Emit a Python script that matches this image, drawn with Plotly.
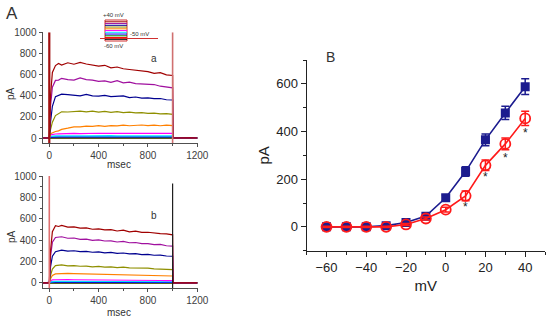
import plotly.graph_objects as go

# ---------------- Panel A data (current traces, pA) ----------------
t_pulse = [0, 10, 25, 50, 75, 100, 150, 200, 250, 300, 350, 400, 450, 500,
           550, 600, 650, 700, 750, 800, 850, 900, 950, 1000]
t_pre = [-50, -2]
t_post = [1003, 1050, 1100, 1150, 1200]

trace_colors = ["#a00000", "#a0109f", "#000090", "#8f8f00", "#ff8000",
                "#ff00ff", "#00e5ff", "#0000ff", "#008000", "#ff0000", "#000000"]

a_traces = [
    [0, 400, 620, 685, 705, 690, 712, 698, 715, 700, 693, 680, 688, 664, 672, 655, 648, 640, 634, 628, 612, 618, 598, 592],
    [0, 300, 480, 545, 548, 565, 552, 548, 568, 552, 548, 536, 540, 526, 542, 522, 528, 515, 512, 502, 506, 490, 485, 475],
    [0, 150, 300, 392, 402, 415, 410, 406, 398, 412, 398, 396, 403, 392, 392, 398, 382, 388, 378, 380, 372, 374, 362, 360],
    [0, 80, 150, 212, 232, 248, 246, 253, 255, 248, 255, 245, 252, 243, 250, 241, 245, 238, 240, 233, 236, 228, 230, 224],
    [0, 40, 50, 62, 68, 82, 93, 106, 105, 112, 110, 117, 111, 118, 115, 122, 116, 121, 123, 117, 122, 116, 121, 117],
    [0, 30, 35, 38, 40, 42, 40, 43, 41, 44, 42, 45, 43, 44, 42, 45, 44, 43, 45, 44, 43, 44, 42, 43],
    [0, 15, 18, 20, 20, 21, 20, 22, 21, 20, 22, 21, 20, 22, 21, 20, 21, 22, 20, 21, 20, 21, 22, 20],
    [0, 8, 10, 10, 11, 10, 12, 10, 11, 10, 11, 12, 10, 11, 10, 11, 12, 10, 11, 10, 11, 10, 11, 10],
    [0, 4, 5, 5, 6, 5, 4, 5, 6, 5, 4, 5, 6, 5, 4, 5, 6, 5, 4, 5, 6, 5, 4, 5],
    [0, 0, 1, 0, -1, 0, 1, 0, -1, 0, 1, 0, -1, 0, 1, 0, -1, 0, 1, 0, -1, 0, 1, 0],
    [0, -5, -6, -5, -4, -5, -6, -5, -4, -5, -6, -5, -4, -5, -6, -5, -4, -5, -6, -5, -4, -5, -6, -5],
]

b_traces = [
    [0, 300, 480, 535, 528, 538, 522, 525, 512, 514, 502, 505, 496, 498, 486, 494, 478, 484, 472, 474, 466, 462, 458, 450],
    [0, 250, 380, 425, 428, 432, 418, 420, 408, 410, 398, 403, 392, 394, 383, 388, 376, 378, 367, 368, 358, 360, 348, 345],
    [0, 150, 250, 292, 298, 307, 298, 301, 292, 295, 287, 290, 282, 285, 277, 280, 272, 274, 265, 267, 259, 260, 252, 250],
    [0, 70, 130, 162, 163, 168, 160, 162, 156, 157, 151, 154, 148, 150, 144, 147, 141, 142, 136, 138, 132, 132, 126, 125],
    [0, 40, 70, 85, 88, 90, 90, 88, 87, 86, 85, 84, 82, 80, 80, 78, 76, 75, 74, 72, 70, 68, 67, 65],
    [0, 20, 28, 30, 32, 32, 31, 30, 30, 29, 29, 28, 28, 27, 27, 26, 26, 25, 25, 24, 24, 23, 22, 22],
    [0, 10, 14, 15, 16, 16, 15, 15, 15, 14, 14, 14, 14, 13, 13, 13, 13, 12, 12, 12, 12, 12, 11, 11],
    [0, 5, 7, 8, 8, 8, 8, 8, 7, 7, 7, 7, 7, 7, 7, 6, 6, 6, 6, 6, 6, 6, 6, 6],
    [0, 2, 3, 3, 3, 3, 3, 3, 3, 3, 3, 3, 3, 3, 3, 3, 3, 3, 3, 3, 3, 3, 3, 3],
    [0, -2, -3, -2, -3, -2, -3, -2, -3, -2, -3, -2, -3, -2, -3, -2, -3, -2, -3, -2, -3, -2, -3, -2],
    [0, -6, -7, -6, -7, -6, -7, -6, -7, -6, -7, -6, -7, -6, -7, -6, -7, -6, -7, -6, -7, -6, -7, -6],
]
baseline_pre = [0, 0]
baseline_post = [0, 2, -2, 1, 0]

# capacitive transients (time, top value) per panel
a_transients = [(0, 1000, "#a01010", 2.2), (1000, 1000, "#d07070", 1.6)]
b_transients = [(0, 1000, "#e07070", 1.6), (1000, 930, "#202020", 1.2)]

# ---------------- Panel B data (I-V) ----------------
mv = [-60, -50, -40, -30, -20, -10, 0, 10, 20, 30, 40]
ctrl_pa = [0, 0, 0, 5, 18, 45, 122, 232, 365, 478, 588]
ctrl_err = [3, 3, 3, 4, 5, 6, 12, 20, 25, 28, 33]
trt_pa = [0, 0, 0, 0, 10, 35, 72, 130, 258, 348, 455]
trt_err = [3, 3, 3, 3, 4, 6, 10, 20, 22, 25, 30]
star_mv = [10, 20, 30, 40]
star_pa = [85, 210, 290, 392]

fig = go.Figure()

def add_panel(traces, transients, xa, ya):
    for col, vals in zip(reversed(trace_colors), reversed(traces)):
        fig.add_trace(go.Scatter(
            x=t_pre + t_pulse + t_post,
            y=baseline_pre + vals + baseline_post,
            mode="lines", line=dict(color=col, width=1.2),
            xaxis=xa, yaxis=ya, showlegend=False, hoverinfo="skip"))
    for tt, top, col, w in transients:
        fig.add_trace(go.Scatter(
            x=[tt, tt], y=[-50, top], mode="lines",
            line=dict(color=col, width=w),
            xaxis=xa, yaxis=ya, showlegend=False, hoverinfo="skip"))

add_panel(a_traces, a_transients, "x", "y")
add_panel(b_traces, b_transients, "x2", "y2")

fig.add_trace(go.Scatter(
    x=mv, y=ctrl_pa, mode="lines+markers",
    line=dict(color="#1c1c8f", width=1.6),
    marker=dict(symbol="square", size=9, color="#1c1c8f"),
    error_y=dict(type="data", array=ctrl_err, color="#1c1c8f", thickness=1.5, width=4),
    xaxis="x3", yaxis="y3", showlegend=False))
fig.add_trace(go.Scatter(
    x=mv, y=trt_pa, mode="lines+markers",
    line=dict(color="#ff1a1a", width=1.6),
    marker=dict(symbol="circle-open", size=10, color="#ff1a1a", line=dict(width=1.8)),
    error_y=dict(type="data", array=trt_err, color="#ff1a1a", thickness=1.5, width=4),
    xaxis="x3", yaxis="y3", showlegend=False))

small_font = dict(family="Liberation Sans, Arial", size=10, color="#404040")
left_axis_common = dict(showline=True, linecolor="#505050", linewidth=1, ticks="outside",
                        ticklen=3, tickcolor="#505050", showgrid=False, zeroline=False,
                        tickfont=small_font, automargin=False)
minor_x = dict(ticks="outside", ticklen=2, dtick=200, tick0=0, tickcolor="#505050")
minor_y = dict(ticks="outside", ticklen=2, dtick=100, tick0=0, tickcolor="#505050")

fig.update_layout(
    width=550, height=320, margin=dict(l=0, r=0, t=0, b=0),
    paper_bgcolor="white", plot_bgcolor="white",
    xaxis=dict(domain=[0.0773, 0.3609], range=[-55, 1210], anchor="y",
               tickvals=[0, 400, 800, 1200], minor=minor_x, **left_axis_common),
    yaxis=dict(domain=[0.5522, 0.899], range=[-50, 1000], anchor="x",
               tickvals=[0, 200, 400, 600, 800, 1000], minor=minor_y, **left_axis_common),
    xaxis2=dict(domain=[0.0773, 0.3609], range=[-55, 1210], anchor="y2",
                tickvals=[0, 400, 800, 1200], minor=minor_x, **left_axis_common),
    yaxis2=dict(domain=[0.0991, 0.45], range=[-50, 1000], anchor="x2",
                tickvals=[0, 200, 400, 600, 800, 1000], minor=minor_y, **left_axis_common),
    xaxis3=dict(domain=[0.5576, 0.991], range=[-70, 50], anchor="y3", automargin=False,
                showline=True, linecolor="#222", linewidth=1.2, ticks="outside", ticklen=5,
                tickcolor="#222", tickvals=[-60, -40, -20, 0, 20, 40], showgrid=False, zeroline=False,
                tickfont=dict(family="Liberation Sans, Arial", size=13, color="#222"),
                minor=dict(ticks="outside", ticklen=3, dtick=10, tick0=0, tickcolor="#222"),
                title=dict(text="mV", font=dict(family="Liberation Sans, Arial", size=15, color="#222"), standoff=6)),
    yaxis3=dict(domain=[0.2166, 0.8125], range=[-100, 700], anchor="x3", automargin=False,
                showline=True, linecolor="#222", linewidth=1.2, ticks="outside", ticklen=5,
                tickcolor="#222", tickvals=[0, 200, 400, 600], showgrid=False, zeroline=False,
                tickfont=dict(family="Liberation Sans, Arial", size=13, color="#222"),
                minor=dict(ticks="outside", ticklen=3, dtick=100, tick0=0, tickcolor="#222"),
                title=dict(text="pA", font=dict(family="Liberation Sans, Arial", size=15, color="#222"), standoff=3)),
)

ann_font = dict(family="Liberation Sans, Arial", color="#333")
annotations = [
    dict(text="A", x=4, y=14, font=dict(size=17, **ann_font)),
    dict(text="B", x=324, y=57, font=dict(size=14, **ann_font)),
    dict(text="pA", x=11, y=94, textangle=-90, font=dict(size=10, **ann_font)),
    dict(text="pA", x=11, y=237, textangle=-90, font=dict(size=10, **ann_font)),
    dict(text="msec", x=119, y=164, font=dict(size=10, **ann_font)),
    dict(text="msec", x=119, y=312, font=dict(size=10, **ann_font)),
    dict(text="a", x=154, y=58, font=dict(size=10, **ann_font)),
    dict(text="b", x=154, y=215, font=dict(size=10, **ann_font)),
    dict(text="+40 mV", x=113, y=15, font=dict(size=6, **ann_font)),
    dict(text="-60 mV", x=113, y=46, font=dict(size=6, **ann_font)),
    dict(text="-50 mV", x=140, y=34, font=dict(size=6, **ann_font)),
]
for a in annotations:
    fig.add_annotation(text=a["text"], x=a["x"] / 550, y=1 - a["y"] / 320,
                       xref="paper", yref="paper", showarrow=False,
                       xanchor="left" if a["text"] in ("A", "B") else "center",
                       yanchor="middle", textangle=a.get("textangle", 0), font=a["font"])

for xs, ys in zip(star_mv, star_pa):
    fig.add_annotation(text="*", x=xs, y=ys, xref="x3", yref="y3", showarrow=False,
                       font=dict(family="Liberation Sans, Arial", size=12, color="#222"), yanchor="middle")

# inset voltage protocol schematic
def px(x, y):
    return x / 550, 1 - y / 320

x0, y0 = px(105, 20)
x1, y1 = px(127, 41)
fig.add_shape(type="rect", xref="paper", yref="paper", x0=x0, y0=y1, x1=x1, y1=y0,
              line=dict(color="#d03030", width=1), fillcolor="white")
for i, col in enumerate(trace_colors):
    yy = 1 - (21.8 + i * 1.75) / 320
    fig.add_shape(type="line", xref="paper", yref="paper", x0=x0, x1=x1, y0=yy, y1=yy,
                  line=dict(color=col, width=1))
hx0, hy = px(100, 38.5)
hx1, _ = px(158, 38.5)
fig.add_shape(type="line", xref="paper", yref="paper", x0=hx0, x1=hx1, y0=hy, y1=hy,
              line=dict(color="#d03030", width=1))

fig.write_html("out.html", config={"displayModeBar": False},
               post_script="document.body.style.margin='0';document.body.style.padding='0';")
